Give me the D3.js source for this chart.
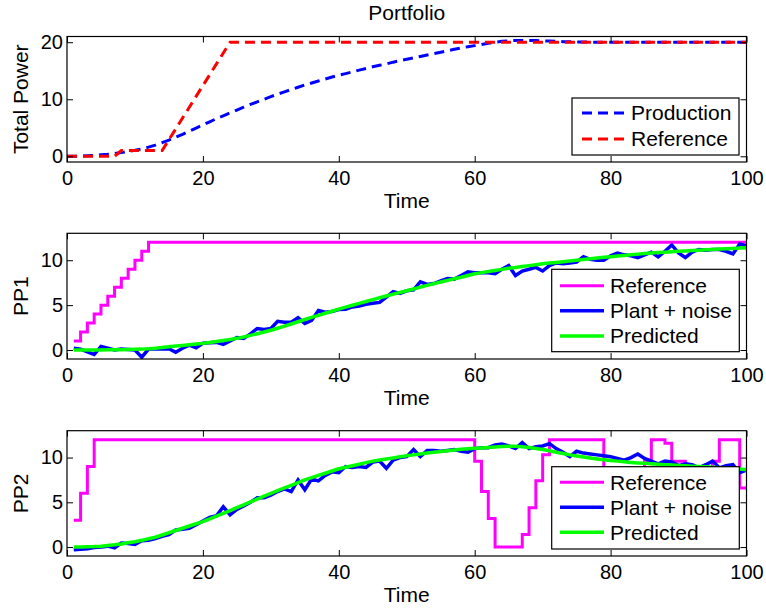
<!DOCTYPE html>
<html>
<head>
<meta charset="utf-8">
<script src="https://cdn.jsdelivr.net/npm/d3@7"></script>
<style>
  body { margin: 0; background: #fff; }
  svg { display: block; }
  text { font-family: "Liberation Sans", Arial, sans-serif; fill: #000; }
</style>
</head>
<body>
<div id="chart"></div>
<script>
// ---------- DATA ----------
const timeTotal = d3.range(0, 101);          // 0..100
const timePP = d3.range(1, 101);             // 1..100

const totalReference = [
  0,0,0,0,0,0,0,0,
  1,1,1,1,1,1,1,
  2.9,4.8,6.7,8.6,10.5,12.4,14.3,16.2,18.1,
  20,20,20,20,20,20,20,20,20,20,20,20,20,20,20,20,20,20,20,20,20,20,20,20,20,20,
  20,20,20,20,20,20,20,20,20,20,20,20,20,20,20,20,20,20,20,20,20,20,20,20,20,20,
  20,20,20,20,20,20,20,20,20,20,20,20,20,20,20,20,20,20,20,20,20,20,20,20,20
];
const totalProduction = [
  0,0,0.05,0.1,0.15,0.25,0.35,0.5,0.65,0.85,
  1.05,1.3,1.6,1.95,2.4,2.85,3.35,3.85,4.4,4.95,
  5.5,6.05,6.6,7.1,7.6,8.1,8.6,9.1,9.55,10.0,
  10.45,10.9,11.3,11.7,12.1,12.5,12.85,13.2,13.55,13.9,
  14.2,14.5,14.8,15.1,15.4,15.7,15.95,16.2,16.5,16.75,
  17.0,17.25,17.5,17.75,18.0,18.25,18.5,18.75,19.0,19.2,
  19.4,19.6,19.8,20.0,20.15,20.25,20.3,20.3,20.3,20.3,
  20.25,20.2,20.15,20.1,20.1,20.05,20.05,20,20,20,
  20,20,20,20,20,20,20,20,20,20,
  20,20,20,20,20,20,20,20,20,20,20
];

const pp1Reference = [1,2,3,4,5,6,7,8,9,10,11,
  12,12,12,12,12,12,12,12,12,12,12,12,12,12,12,12,12,12,12,12,12,12,12,12,12,12,12,12,12,12,12,12,12,12,
  12,12,12,12,12,12,12,12,12,12,12,12,12,12,12,12,12,12,12,12,12,12,12,12,12,12,12,12,12,12,12,12,12,12,
  12,12,12,12,12,12,12,12,12,12,12,12,12,12,12,12,12,12,12,12,12,12,12];
const pp1Plant = [
  0.2,0.1,-0.2,-0.5,0.4,0.2,0.0,0.1,0.05,0.0,
  -0.8,0.1,0.1,0.1,0.15,-0.25,0.2,0.55,0.25,0.75,
  0.8,0.85,0.63,1.0,1.4,1.3,1.8,2.4,2.3,2.4,
  3.2,3.1,3.1,3.6,2.96,3.3,4.4,4.2,4.3,4.5,
  4.55,4.8,4.9,5.1,5.2,5.3,5.9,6.5,6.3,6.6,
  6.7,7.6,7.3,7.4,7.7,7.96,7.9,8.3,8.7,8.6,
  8.6,8.6,8.5,9.0,9.4,8.3,8.8,9.0,9.2,8.8,
  9.4,9.7,9.6,9.7,9.8,10.4,10.1,10.0,10.0,10.5,
  10.8,10.6,10.5,10.3,10.6,10.9,10.37,11.0,11.7,10.8,
  10.3,10.9,11.2,11.1,11.2,11.2,11.0,10.7,11.8,11.6
];
const pp1Predicted = [
  0.0,0.0,0.0,0.0,0.01,0.02,0.03,0.04,0.06,0.08,
  0.1,0.14,0.2,0.28,0.37,0.44,0.51,0.58,0.66,0.74,
  0.84,0.95,1.06,1.18,1.3,1.46,1.63,1.81,2.0,2.2,
  2.43,2.66,2.9,3.15,3.4,3.63,3.86,4.09,4.32,4.55,
  4.77,4.99,5.2,5.41,5.62,5.82,6.02,6.22,6.41,6.6,
  6.8,7.0,7.2,7.39,7.58,7.76,7.94,8.1,8.3,8.5,
  8.62,8.74,8.86,8.98,9.1,9.2,9.3,9.4,9.5,9.6,
  9.68,9.76,9.84,9.92,10.0,10.08,10.16,10.24,10.32,10.4,
  10.47,10.54,10.61,10.68,10.75,10.8,10.85,10.9,10.95,11.0,
  11.04,11.08,11.12,11.16,11.2,11.24,11.28,11.32,11.36,11.4
];

const pp2Reference = [3,6,9,
  12,12,12,12,12,12,12,12,12,12,12,12,12,12,12,12,12,12,12,12,12,12,12,12,12,12,
  12,12,12,12,12,12,12,12,12,12,12,12,12,12,12,12,12,12,12,12,12,12,12,12,12,12,12,12,12,12,
  9.6,6.2,3.2,0,0,0,0,1.4,4.4,7.4,10.3,
  12,12,12,12,12,12,12,12,
  8,8,8,8,8,8,
  9.6,12,12,11.6,9.6,9.6,
  8,8,8,8,
  9.6,12,12,12,6.6,6.6];
const pp2Plant = [
  -0.3,-0.25,-0.2,-0.05,0.0,0.1,-0.1,0.45,0.4,0.3,
  0.7,0.75,0.95,1.2,1.4,1.9,2.0,2.1,2.5,2.9,
  3.3,3.5,4.5,3.6,4.2,4.6,5.0,5.5,5.5,5.8,
  6.2,6.5,6.2,7.5,6.4,7.6,7.4,8.0,8.4,8.3,
  9.0,8.9,9.0,8.9,9.5,9.6,8.8,9.7,10.0,10.1,
  10.9,10.1,10.8,10.8,10.7,10.8,10.9,10.7,10.6,11.0,
  11.1,11.1,11.4,11.5,11.3,11.0,11.67,11.0,11.2,11.3,
  11.56,11.0,10.6,10.1,10.7,10.5,10.4,10.3,10.2,10.1,
  9.9,9.7,10.0,10.4,9.9,9.6,9.3,9.6,9.5,9.1,
  9.3,9.2,8.85,9.2,9.6,8.85,9.1,9.2,8.3,8.6
];
const pp2Predicted = [
  0.0,0.0,0.02,0.05,0.1,0.17,0.25,0.35,0.47,0.6,
  0.75,0.92,1.1,1.35,1.6,1.85,2.1,2.35,2.6,2.85,
  3.15,3.45,3.75,4.07,4.4,4.72,5.04,5.36,5.68,6.0,
  6.3,6.6,6.9,7.2,7.5,7.75,8.0,8.25,8.5,8.75,
  8.92,9.09,9.26,9.43,9.6,9.72,9.84,9.96,10.08,10.2,
  10.3,10.4,10.5,10.6,10.68,10.76,10.84,10.92,10.98,11.03,
  11.08,11.13,11.18,11.23,11.27,11.25,11.2,11.12,11.02,10.9,
  10.76,10.6,10.45,10.3,10.17,10.05,9.94,9.84,9.75,9.67,
  9.6,9.53,9.46,9.4,9.35,9.3,9.25,9.2,9.16,9.12,
  9.08,9.04,9.0,8.96,8.91,8.86,8.81,8.76,8.71,8.65
];

const xTicks = [0, 20, 40, 60, 80, 100];
const yTicksTotal = [0, 10, 20];
const yTicksPP = [0, 5, 10];

// ---------- LAYOUT ----------
const W = 766, H = 610;
const TICK_FONT = 20;
const FONT = 21;
const left = 67, right = 746.5;
const panels = [
  {
    top: 36.5, bottom: 162, yDomain: [-1, 21], yTicks: yTicksTotal, ylabel: "Total Power",
    title: "Portfolio",
    series: [
      { name: "Production", x: timeTotal, y: totalProduction, color: "#0000ff", width: 3, dash: "10,6", curve: d3.curveLinear },
      { name: "Reference", x: timeTotal, y: totalReference, color: "#ff0000", width: 3, dash: "10,6", curve: d3.curveLinear }
    ],
    legend: { x0: 572, x1: 739, y0: 98, y1: 155, rows: [113, 139], lx0: 582, lx1: 626, tx: 631,
              items: [0, 1] }
  },
  {
    top: 233.3, bottom: 359, yDomain: [-1, 13], yTicks: yTicksPP, ylabel: "PP1",
    series: [
      { name: "Reference", x: timePP, y: pp1Reference, color: "#ff00ff", width: 3, curve: d3.curveStepAfter },
      { name: "Plant + noise", x: timePP, y: pp1Plant, color: "#0000ff", width: 3.5, curve: d3.curveLinear },
      { name: "Predicted", x: timePP, y: pp1Predicted, color: "#00ff00", width: 3.5, curve: d3.curveLinear }
    ],
    legend: { x0: 551.7, x1: 739.3, y0: 269.3, y1: 351.7, rows: [285.7, 310.7, 336], lx0: 560, lx1: 604, tx: 610,
              items: [0, 1, 2] }
  },
  {
    top: 430.7, bottom: 556, yDomain: [-1, 13], yTicks: yTicksPP, ylabel: "PP2",
    series: [
      { name: "Reference", x: timePP, y: pp2Reference, color: "#ff00ff", width: 3, curve: d3.curveStepAfter },
      { name: "Plant + noise", x: timePP, y: pp2Plant, color: "#0000ff", width: 3.5, curve: d3.curveLinear },
      { name: "Predicted", x: timePP, y: pp2Predicted, color: "#00ff00", width: 3.5, curve: d3.curveLinear }
    ],
    legend: { x0: 551.7, x1: 739.3, y0: 466.7, y1: 549, rows: [482.3, 507.3, 532.3], lx0: 560, lx1: 604, tx: 610,
              items: [0, 1, 2] }
  }
];

const svg = d3.select("#chart").append("svg")
  .attr("width", W).attr("height", H)
  .style("font-family", '"Liberation Sans", Arial, sans-serif');

svg.append("rect").attr("width", W).attr("height", H).attr("fill", "#fff");

const x = d3.scaleLinear().domain([0, 100]).range([left, right]);

panels.forEach((p, i) => {
  const y = d3.scaleLinear().domain(p.yDomain).range([p.bottom, p.top]);
  const g = svg.append("g");

  const clipId = "clip" + i;
  svg.append("clipPath").attr("id", clipId).append("rect")
    .attr("x", left).attr("y", p.top).attr("width", right - left).attr("height", p.bottom - p.top);

  // series
  const lines = g.append("g").attr("clip-path", `url(#${clipId})`);
  p.series.forEach(s => {
    const pts = s.x.map((t, k) => [t, s.y[k]]);
    const line = d3.line().x(d => x(d[0])).y(d => y(d[1])).curve(s.curve);
    lines.append("path")
      .attr("d", line(pts))
      .attr("fill", "none")
      .attr("stroke", s.color)
      .attr("stroke-width", s.width)
      .attr("stroke-dasharray", s.dash || null)
      .attr("stroke-linejoin", "miter");
  });

  // axes (ticks inward on all four sides)
  const axB = d3.axisBottom(x).tickValues(xTicks).tickSizeInner(-6).tickSizeOuter(0).tickPadding(9).tickFormat(d3.format("d"));
  const axT = d3.axisTop(x).tickValues(xTicks).tickSizeInner(-6).tickSizeOuter(0).tickFormat("");
  const axL = d3.axisLeft(y).tickValues(p.yTicks).tickSizeInner(-6).tickSizeOuter(0).tickPadding(4).tickFormat(d3.format("d"));
  const axR = d3.axisRight(y).tickValues(p.yTicks).tickSizeInner(-6).tickSizeOuter(0).tickFormat("");

  [[axB, `translate(0,${p.bottom})`], [axT, `translate(0,${p.top})`],
   [axL, `translate(${left},0)`], [axR, `translate(${right},0)`]].forEach(([ax, tr]) => {
    const a = g.append("g").attr("transform", tr).call(ax);
    a.select(".domain").remove();
    a.selectAll("line").attr("stroke", "#000").attr("stroke-width", 1);
    a.selectAll("text").attr("font-size", TICK_FONT).attr("fill", "#000")
      .style("font-family", '"Liberation Sans", Arial, sans-serif');
  });

  // box
  g.append("rect").attr("x", left).attr("y", p.top)
    .attr("width", right - left).attr("height", p.bottom - p.top)
    .attr("fill", "none").attr("stroke", "#000").attr("stroke-width", 1.2);

  // x label
  g.append("text").attr("x", (left + right) / 2).attr("y", p.bottom + 46)
    .attr("text-anchor", "middle").attr("font-size", FONT).text("Time");

  // y label
  g.append("text")
    .attr("transform", `translate(28,${(p.top + p.bottom) / 2}) rotate(-90)`)
    .attr("text-anchor", "middle").attr("font-size", FONT).text(p.ylabel);

  if (p.title) {
    g.append("text").attr("x", (left + right) / 2).attr("y", 20)
      .attr("text-anchor", "middle").attr("font-size", FONT).text(p.title);
  }

  // legend
  const L = p.legend;
  const lg = g.append("g");
  lg.append("rect").attr("x", L.x0).attr("y", L.y0)
    .attr("width", L.x1 - L.x0).attr("height", L.y1 - L.y0)
    .attr("fill", "#fff").attr("stroke", "#000").attr("stroke-width", 1.2);
  L.items.forEach((si, r) => {
    const s = p.series[si];
    lg.append("line").attr("x1", L.lx0).attr("x2", L.lx1)
      .attr("y1", L.rows[r]).attr("y2", L.rows[r])
      .attr("stroke", s.color).attr("stroke-width", s.width)
      .attr("stroke-dasharray", s.dash || null);
    lg.append("text").attr("x", L.tx).attr("y", L.rows[r]).attr("dy", "0.35em")
      .attr("font-size", FONT).text(s.name);
  });
});
</script>
</body>
</html>
